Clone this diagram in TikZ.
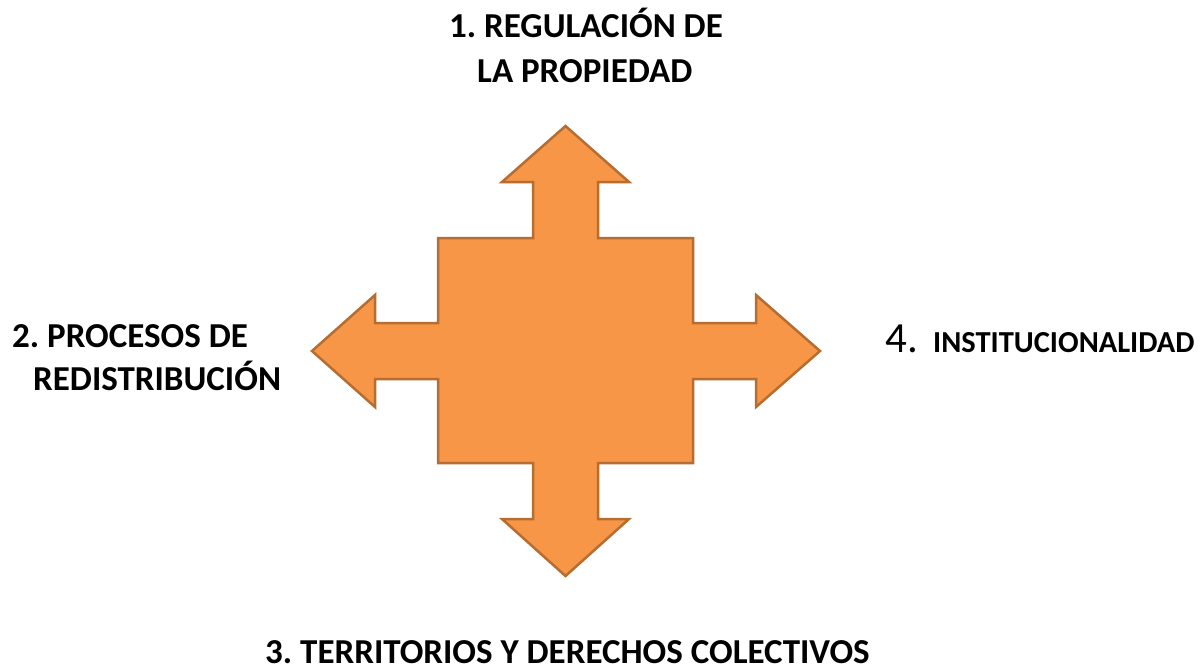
\documentclass[tikz,border=0pt]{standalone}
\usepackage{fontspec}
\setmainfont{Carlito}
\definecolor{arrowfill}{HTML}{F79646}
\definecolor{arrowline}{HTML}{B66D31}
\frenchspacing
\begin{document}
\begin{tikzpicture}[x=1pt,y=-1pt,
  lbl/.style={inner sep=0pt,anchor=base west,font=\fontsize{35}{40}\selectfont\bfseries},
  lblsmall/.style={inner sep=0pt,anchor=base west,font=\fontsize{30.5}{34}\selectfont\bfseries},
  lblnum/.style={inner sep=0pt,anchor=base west,font=\fontsize{43}{48}\selectfont},
  quad/.style={fill=arrowfill,draw=arrowline,line width=2.5pt,line join=miter}]
\useasboundingbox (0,0) rectangle (1203,670);
% quad arrow
\draw[quad] (438,238) -- (533,238) -- (533,182) -- (502,182) -- (565.5,126)
  -- (629,182) -- (598,182) -- (598,238) -- (693,238) -- (693,323)
  -- (756,323) -- (756,295) -- (820,351) -- (756,407) -- (756,379)
  -- (693,379) -- (693,463) -- (598,463) -- (598,519) -- (629,519)
  -- (565.5,576) -- (502,519) -- (533,519) -- (533,463) -- (438,463)
  -- (438,379) -- (375,379) -- (375,407) -- (312,351) -- (375,295)
  -- (375,323) -- (438,323) -- cycle;
% labels
\node[lbl] (t1a) at (449,37) {1. REGULACIÓN DE};
\node[lbl] (t1b) at (477,82) {LA PROPIEDAD};
\node[lbl] (t2a) at (12,347) {2. PROCESOS DE};
\node[lbl] (t2b) at (33,390) {REDISTRIBUCIÓN};
\node[lbl] (t3) at (265,663) {3. TERRITORIOS Y DERECHOS COLECTIVOS};
\node[lblnum] (t4a) at (885,352) {4.};
\node[lblsmall] (t4b) at (933,352) {INSTITUCIONALIDAD};
\end{tikzpicture}
\end{document}
